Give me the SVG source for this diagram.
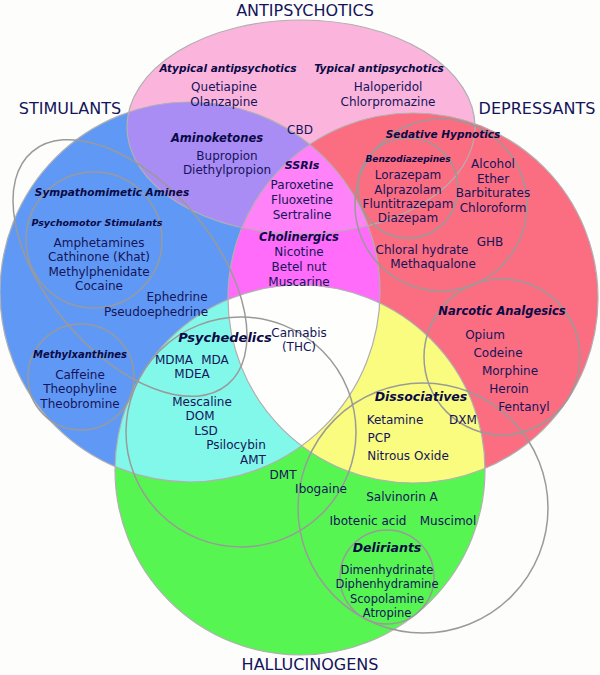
<svg xmlns="http://www.w3.org/2000/svg" width="600" height="675" viewBox="0 0 600 675">
<style>
text{font-family:"DejaVu Sans","Verdana",sans-serif;fill:#14145a;text-anchor:middle;font-size:12px}
.h{font-weight:bold;font-style:italic;fill:#0a0a46;font-size:11px}
.t{font-size:16px;fill:#14145a}
.sub{fill:none;stroke:#9a9a9a;stroke-width:1.5}
.big{fill:none;stroke:#b0b0b0;stroke-width:1.2}
</style>
<defs>
<clipPath id="cS"><circle cx="190" cy="292" r="190"/></clipPath>
<clipPath id="cD"><circle cx="413" cy="298" r="185"/></clipPath>
<clipPath id="cA"><ellipse cx="301" cy="127" rx="174" ry="107"/></clipPath>
</defs>
<rect width="600" height="675" fill="#fdfdfb"/>
<g id="regions">
<ellipse cx="301" cy="127" rx="174" ry="107" fill="#fbb5dc"/>
<circle cx="190" cy="292" r="190" fill="#6099f5"/>
<circle cx="413" cy="298" r="185" fill="#fb6d80"/>
<circle cx="300" cy="470" r="185" fill="#57f552"/>
<ellipse cx="301" cy="127" rx="174" ry="107" fill="#aa8cf5" clip-path="url(#cS)"/>
<circle cx="300" cy="470" r="185" fill="#82f8ea" clip-path="url(#cS)"/>
<circle cx="300" cy="470" r="185" fill="#fafc80" clip-path="url(#cD)"/>
<circle cx="413" cy="298" r="185" fill="#ff6cfa" clip-path="url(#cS)"/>
<g clip-path="url(#cS)"><ellipse cx="301" cy="127" rx="174" ry="107" fill="#ff82f8" clip-path="url(#cD)"/></g>
<g clip-path="url(#cS)"><circle cx="300" cy="470" r="185" fill="#fefefc" clip-path="url(#cD)"/></g>
<ellipse class="big" cx="301" cy="127" rx="174" ry="107"/>
<circle class="big" cx="190" cy="292" r="190"/>
<circle class="big" cx="413" cy="298" r="185"/>
<circle class="big" cx="300" cy="470" r="185"/>
</g>
<g id="subsets">
<circle class="sub" cx="94" cy="240" r="68"/>
<ellipse class="sub" cx="130" cy="268" rx="152" ry="84" transform="rotate(50 130 268)"/>
<circle class="sub" cx="81" cy="377" r="53"/>
<circle class="sub" cx="441" cy="205" r="86"/>
<circle class="sub" cx="408" cy="188" r="50"/>
<circle class="sub" cx="502" cy="357" r="78"/>
<circle class="sub" cx="241" cy="432" r="115"/>
<circle class="sub" cx="423" cy="508" r="125"/>
<circle class="sub" cx="387" cy="577" r="47"/>
</g>
<g id="titles">
<text class="t" x="305" y="16">ANTIPSYCHOTICS</text>
<text class="t" x="70" y="114">STIMULANTS</text>
<text class="t" x="537" y="114">DEPRESSANTS</text>
<text class="t" x="310" y="670">HALLUCINOGENS</text>
</g>
<g id="antipsychotics">
<text class="h" x="228" y="72" style="font-size:10.5px">Atypical antipsychotics</text>
<text x="224" y="91">Quetiapine</text><text x="224" y="106">Olanzapine</text>
<text class="h" x="379" y="72" style="font-size:10.5px">Typical antipsychotics</text>
<text x="388" y="91">Haloperidol</text><text x="388" y="106">Chlorpromazine</text>
<text x="300" y="134">CBD</text>
</g>
<g id="aminoketones">
<text class="h" x="217" y="142" style="font-size:11.5px">Aminoketones</text>
<text x="227" y="160">Bupropion</text><text x="227" y="174">Diethylpropion</text>
</g>
<g id="ssris">
<text class="h" x="302" y="169">SSRIs</text>
<text x="302" y="189">Paroxetine</text><text x="302" y="204">Fluoxetine</text><text x="302" y="219">Sertraline</text>
</g>
<g id="cholinergics">
<text class="h" x="299" y="241" style="font-size:11.5px">Cholinergics</text>
<text x="299" y="256">Nicotine</text><text x="299" y="271">Betel nut</text><text x="299" y="286">Muscarine</text>
</g>
<g id="stimulants">
<text class="h" x="112" y="196" style="font-size:10.5px">Sympathomimetic Amines</text>
<text class="h" x="97" y="226" style="font-size:9.5px">Psychomotor Stimulants</text>
<text x="99" y="247">Amphetamines</text><text x="99" y="261">Cathinone (Khat)</text><text x="99" y="276">Methylphenidate</text><text x="99" y="290">Cocaine</text>
<text x="177" y="301">Ephedrine</text><text x="156" y="316">Pseudoephedrine</text>
<text class="h" x="80" y="358" style="font-size:10px">Methylxanthines</text>
<text x="80" y="379">Caffeine</text><text x="80" y="393">Theophyline</text><text x="80" y="408">Theobromine</text>
</g>
<g id="depressants">
<text class="h" x="443" y="138" style="font-size:10.5px">Sedative Hypnotics</text>
<text class="h" x="408" y="162" style="font-size:9px">Benzodiazepines</text>
<text x="408" y="179">Lorazepam</text><text x="408" y="194">Alprazolam</text><text x="408" y="208">Fluntitrazepam</text><text x="408" y="222">Diazepam</text>
<text x="493" y="168">Alcohol</text><text x="493" y="183">Ether</text><text x="493" y="197">Barbiturates</text><text x="493" y="212">Chloroform</text>
<text x="490" y="246">GHB</text>
<text x="422" y="254">Chloral hydrate</text><text x="433" y="268">Methaqualone</text>
<text class="h" x="502" y="315" style="font-size:11.5px">Narcotic Analgesics</text>
<text x="485" y="339">Opium</text><text x="498" y="357">Codeine</text><text x="510" y="375">Morphine</text><text x="509" y="393">Heroin</text><text x="524" y="411">Fentanyl</text>
</g>
<g id="hallucinogens">
<text class="h" x="225" y="342" style="font-size:13px">Psychedelics</text>
<text x="174" y="364">MDMA</text><text x="215" y="364">MDA</text><text x="192" y="378">MDEA</text>
<text x="202" y="406">Mescaline</text><text x="200" y="420">DOM</text><text x="206" y="435">LSD</text><text x="236" y="449">Psilocybin</text><text x="253" y="464">AMT</text>
<text x="299" y="337">Cannabis</text><text x="299" y="351">(THC)</text>
<text class="h" x="421" y="401" style="font-size:12.5px">Dissociatives</text>
<text x="395" y="424">Ketamine</text><text x="463" y="424">DXM</text><text x="379" y="442">PCP</text><text x="408" y="460">Nitrous Oxide</text>
<text x="283" y="479">DMT</text><text x="321" y="493">Ibogaine</text><text x="402" y="501">Salvinorin A</text>
<text x="368" y="525">Ibotenic acid</text><text x="448" y="525">Muscimol</text>
<text class="h" x="387" y="552" style="font-size:12.5px">Deliriants</text>
<text x="387" y="574" style="font-size:11.5px">Dimenhydrinate</text><text x="387" y="588" style="font-size:11.5px">Diphenhydramine</text><text x="387" y="603" style="font-size:11.5px">Scopolamine</text><text x="387" y="617" style="font-size:11.5px">Atropine</text>
</g>
</svg>
